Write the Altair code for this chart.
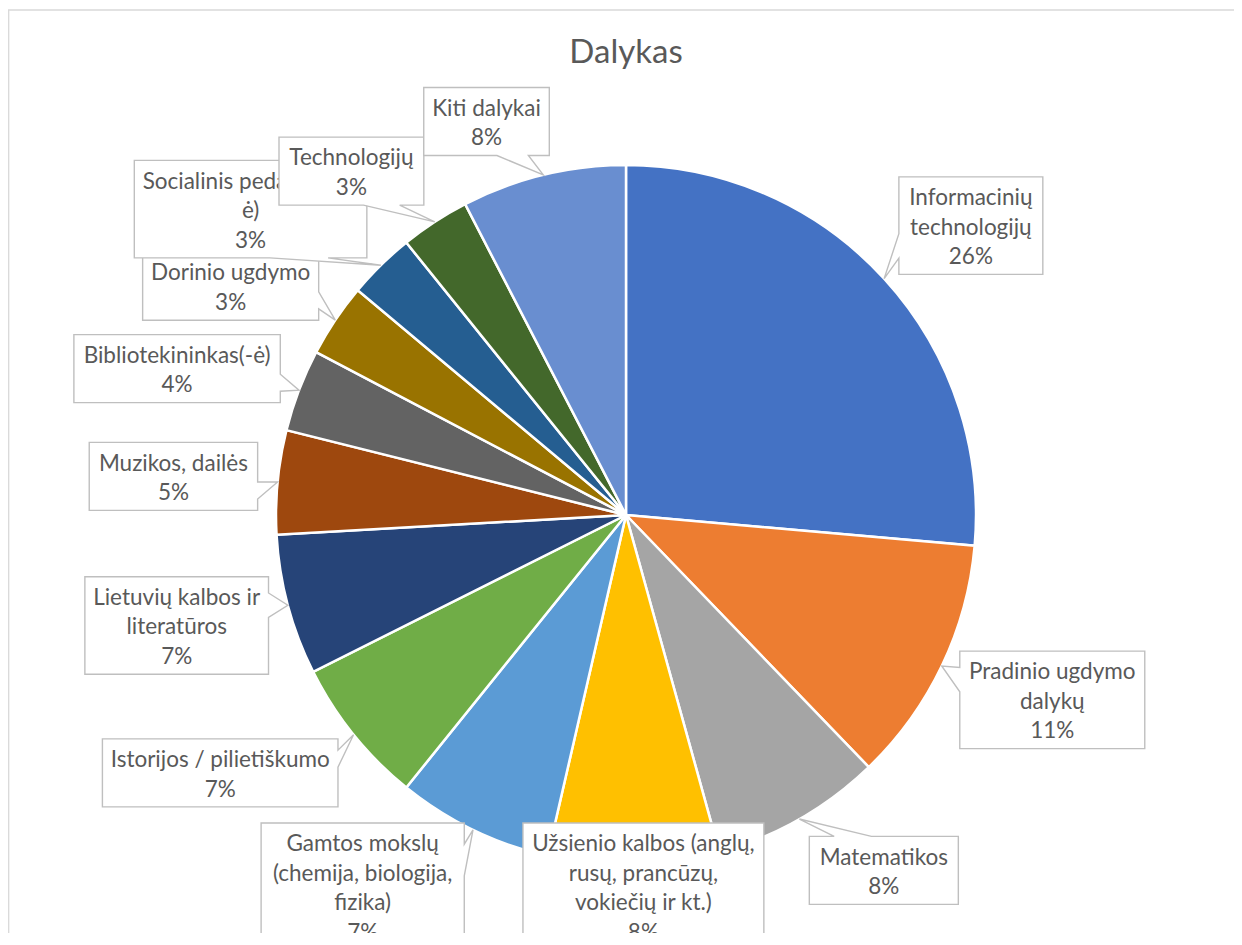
import math
import altair as alt
import pandas as pd

# ---------------- data ----------------
categories = [
    "Informacinių technologijų",
    "Pradinio ugdymo dalykų",
    "Matematikos",
    "Užsienio kalbos (anglų, rusų, prancūzų, vokiečių ir kt.)",
    "Gamtos mokslų (chemija, biologija, fizika)",
    "Istorijos / pilietiškumo",
    "Lietuvių kalbos ir literatūros",
    "Muzikos, dailės",
    "Bibliotekininkas(-ė)",
    "Dorinio ugdymo",
    "Socialinis pedagogas(-ė)",
    "Technologijų",
    "Kiti dalykai",
]
values = [26.4, 11.4, 7.9, 7.9, 7.2, 6.8, 6.5, 4.8, 3.8, 3.4, 3.1, 3.2, 7.6]
label_lines = [
    "Informacinių\ntechnologijų",
    "Pradinio ugdymo\ndalykų",
    "Matematikos",
    "Užsienio kalbos (anglų,\nrusų, prancūzų,\nvokiečių ir kt.)",
    "Gamtos mokslų\n(chemija, biologija,\nfizika)",
    "Istorijos / pilietiškumo",
    "Lietuvių kalbos ir\nliteratūros",
    "Muzikos, dailės",
    "Bibliotekininkas(-ė)",
    "Dorinio ugdymo",
    "Socialinis pedagogas(-\nė)",
    "Technologijų",
    "Kiti dalykai",
]
colors = [
    "#4472C4", "#ED7D31", "#A5A5A5", "#FFC000", "#5B9BD5", "#70AD47",
    "#264478", "#9E480E", "#636363", "#997300", "#255E91", "#43682B", "#698ED0",
]
title_text = "Dalykas"

# ---------------- layout ----------------
W, H = 1226, 925
CX, CY, R = 618, 507, 350
GAP = 20
REF_FS = 23.6          # label size used to size the callout boxes
LINE_H = 29.5
PAD_X, PAD_Y = 11, 4.5
CHART_BOTTOM = 942     # labels are kept inside the (cropped) chart area
FONT = "Lato"
LABEL_FS = 22.5
TITLE_FS = 33
TEXT_COLOR = "#595959"
BOX_STROKE = "#BFBFBF"

# approximate advance widths (em) used for box sizing
CW = {
    "a": .479, "b": .525, "c": .423, "d": .525, "e": .498, "f": .305, "g": .471,
    "h": .525, "i": .229, "j": .239, "k": .455, "l": .229, "m": .799, "n": .525,
    "o": .527, "p": .525, "q": .525, "r": .349, "s": .391, "t": .335, "u": .525,
    "v": .452, "w": .715, "x": .433, "y": .453, "z": .395,
    "ų": .525, "ė": .498, "ū": .525, "č": .423, "š": .391, "ž": .395, "į": .229,
    "B": .544, "D": .615, "G": .631, "I": .252, "K": .520, "L": .420, "M": .855,
    "P": .517, "S": .459, "T": .487, "U": .642,
    "%": .715, "(": .303, ")": .303, "-": .306, "/": .386, ",": .250, ".": .252,
    " ": .226,
}
for d in "0123456789":
    CW[d] = .507


def text_w(s):
    return sum(CW.get(ch, .5) for ch in s) * REF_FS


def callout(l, t, r, b, tx, ty):
    w, h = r - l, b - t
    hc, vc = (l + r) / 2, (t + b) / 2
    dxp, dyp = tx - hc, ty - vc
    inside = l <= tx <= r and t <= ty <= b
    side = None
    if not inside:
        if abs(dxp * h) > abs(dyp * w):
            side = "right" if dxp > 0 else "left"
        else:
            side = "bottom" if dyp > 0 else "top"
    xg = (7, 10) if dxp > 0 else (2, 5)
    yg = (7, 10) if dyp > 0 else (2, 5)
    x1, x2 = l + w * xg[0] / 12, l + w * xg[1] / 12
    y1, y2 = t + h * yg[0] / 12, t + h * yg[1] / 12
    pts = [(l, t)]
    if side == "top":
        pts += [(x1, t), (tx, ty), (x2, t)]
    pts.append((r, t))
    if side == "right":
        pts += [(r, y1), (tx, ty), (r, y2)]
    pts.append((r, b))
    if side == "bottom":
        pts += [(x2, b), (tx, ty), (x1, b)]
    pts.append((l, b))
    if side == "left":
        pts += [(l, y2), (tx, ty), (l, y1)]
    pts.append((l, t))
    return [[round(x, 2), round(y, 2)] for x, y in pts]


total = sum(values)
df = pd.DataFrame({"idx": list(range(len(values))), "category": categories, "value": values})

pie = alt.Chart(df).mark_arc(
    radius=R, x=CX, y=CY, stroke="white", strokeWidth=2.5
).encode(
    theta=alt.Theta("value:Q", stack=True),
    color=alt.Color("category:N", scale=alt.Scale(domain=categories, range=colors), legend=None),
    order=alt.Order("idx:Q", sort="ascending"),
)

one = alt.Data(values=[{"k": 0}])
top_border = alt.Chart(one).mark_rule(color="#D9D9D9", strokeWidth=1.3).encode(
    x=alt.value(0), x2=alt.value(W), y=alt.value(2)
)
left_border = alt.Chart(one).mark_rule(color="#D9D9D9", strokeWidth=1.3).encode(
    x=alt.value(0.7), y=alt.value(2), y2=alt.value(H)
)

layers = [pie, top_border, left_border]

cum = 0.0
for i, (v, lab) in enumerate(zip(values, label_lines)):
    mid = (cum + v / 2) / total * 2 * math.pi
    cum += v
    s, c = math.sin(mid), math.cos(mid)
    px, py = CX + R * s, CY - R * c
    pct = int(v / total * 100 + 0.5)
    text = f"{lab}\n{pct}%"
    lines = text.split("\n")
    w = max(text_w(ln) for ln in lines) + 2 * PAD_X
    h = len(lines) * LINE_H + 2 * PAD_Y
    ax, ay = px + GAP * s, py - GAP * c
    fx = min(1.0, max(0.0, 0.5 - 1.75 * s))
    fy = min(1.0, max(0.0, 0.5 + 0.6 * c))
    l, t = ax - fx * w, ay - fy * h
    if t + h > CHART_BOTTOM:
        t = CHART_BOTTOM - h
    r, b = l + w, t + h
    feature = {
        "type": "Feature",
        "properties": {"idx": i},
        "geometry": {"type": "Polygon", "coordinates": [callout(l, t, r, b, px, py)]},
    }
    box = alt.Chart(alt.Data(values=[feature])).mark_geoshape(
        fill="white", stroke=BOX_STROKE, strokeWidth=1.4
    ).project(type="identity", scale=1, translate=[0, 0])
    first_line_y = (t + b) / 2 - (len(lines) - 1) * LINE_H / 2
    lbl = alt.Chart(alt.Data(values=[{"tx": (l + r) / 2, "ty": first_line_y, "label": text}])).mark_text(
        font=FONT, fontSize=LABEL_FS, color=TEXT_COLOR, lineBreak="\n", lineHeight=LINE_H,
        align="center", baseline="middle", dy=2,
    ).encode(
        x=alt.X("tx:Q", scale=None, axis=None),
        y=alt.Y("ty:Q", scale=None, axis=None),
        text="label:N",
    )
    layers += [box, lbl]

chart = alt.layer(*layers).properties(
    width=W,
    height=H,
    padding=0,
    autosize=alt.AutoSizeParams(type="none"),
    title=alt.TitleParams(
        text=title_text, anchor="middle", frame="group", offset=0,
        dx=CX - W / 2, dy=88, baseline="alphabetic",
        font=FONT, fontSize=TITLE_FS, fontWeight="normal", color=TEXT_COLOR,
    ),
).configure_view(strokeWidth=0)

chart.save("out.html", embed_options={"renderer": "svg", "actions": False})
